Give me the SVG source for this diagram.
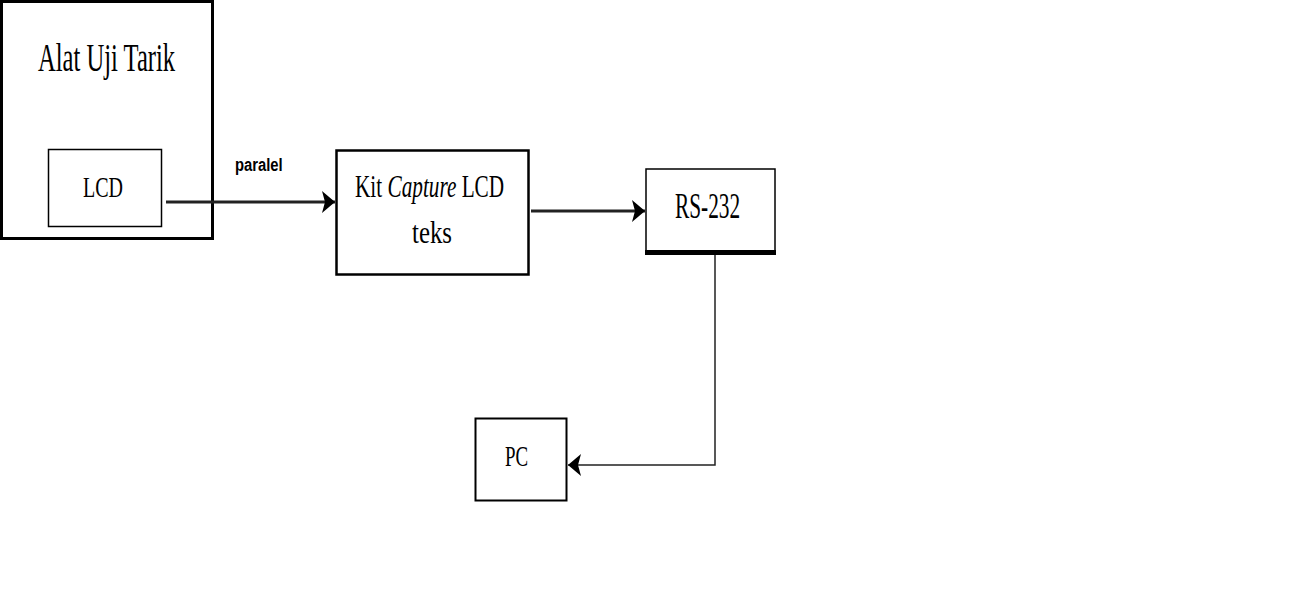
<svg xmlns="http://www.w3.org/2000/svg" width="1304" height="615" viewBox="0 0 1304 615">
<style>
.box{fill:#fff;stroke:#000}
.lbl{font-family:"Liberation Serif","Times New Roman",serif;fill:#000}
.edge{fill:none;stroke:#222}
</style>
<defs>
<marker id="ah" markerUnits="userSpaceOnUse" viewBox="0 0 13 22" refX="13" refY="11" markerWidth="13" markerHeight="22" orient="auto">
<path d="M0,0 L13,11 L0,22 L3,11 Z" fill="#000"/>
</marker>
</defs>
<rect width="1304" height="615" fill="#fff"/>
<g id="alat">
<rect class="box" x="1.5" y="1.5" width="211" height="237" stroke-width="3"/>
<text class="lbl" transform="translate(38,71) scale(0.6,1)" font-size="41">Alat Uji Tarik</text>
</g>
<g id="lcd">
<rect class="box" x="48.5" y="149.5" width="113" height="77" stroke-width="1.5"/>
<text class="lbl" transform="translate(83,197) scale(0.667,1)" font-size="30">LCD</text>
</g>
<g id="kit">
<rect class="box" x="336.5" y="150.5" width="192" height="124" stroke-width="2.5"/>
<text class="lbl" transform="translate(355,197) scale(0.664,1)" font-size="32">Kit <tspan font-style="italic">Capture</tspan> LCD</text>
<text class="lbl" transform="translate(412,243) scale(0.775,1)" font-size="32">teks</text>
</g>
<g id="rs232">
<rect class="box" x="646" y="169" width="129" height="83" stroke-width="1.5"/>
<rect x="645" y="250" width="131" height="5" fill="#000"/>
<text class="lbl" transform="translate(675,218) scale(0.61,1)" font-size="35">RS-232</text>
</g>
<g id="pc">
<rect class="box" x="475.5" y="418.5" width="91" height="82" stroke-width="2"/>
<text class="lbl" transform="translate(505,466) scale(0.63,1)" font-size="30">PC</text>
</g>
<g id="connectors">
<path class="edge" d="M166,202 L335,202" stroke-width="3" stroke="#333" marker-end="url(#ah)"/>
<text transform="translate(235,171) scale(0.78,1)" font-family="Liberation Sans, Arial, sans-serif" font-size="19" font-weight="bold">paralel</text>
<path class="edge" d="M531,211 L645,211" stroke-width="3" stroke="#333" marker-end="url(#ah)"/>
<path class="edge" d="M715,255 L715,465 L568,465" stroke-width="1.5" stroke="#000" marker-end="url(#ah)"/>
</g>
</svg>
